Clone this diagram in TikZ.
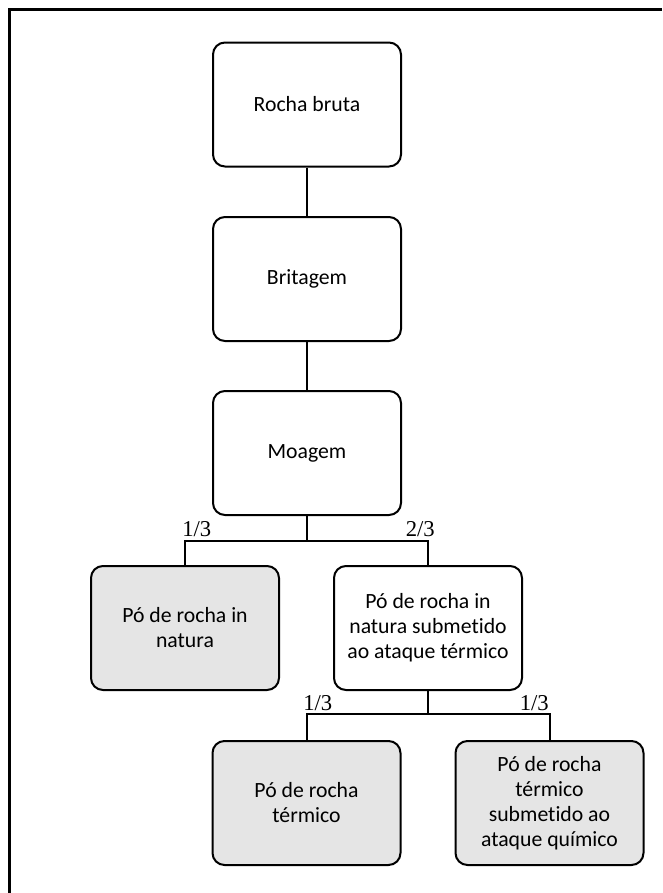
\documentclass[tikz,border=0pt]{standalone}
\usepackage{fontspec}
\setmainfont{Carlito}[Ligatures=NoCommon]
\newfontfamily\fracfont{Liberation Serif}
\usepackage{tikz}
\usetikzlibrary{calc}

\begin{document}
\begin{tikzpicture}[
    x=0.75pt,
    y=-0.75pt,
    every node/.style={font=\fontsize{16.3}{18.75}\selectfont},
    box/.style={draw, rounded corners=9pt, align=center,
        minimum width=141pt, minimum height=93pt, line width=1.5pt},
    stage/.style={box, fill=white},
    product/.style={box, fill=black!10},
    link/.style={draw=black, line width=1.5pt},
    frac/.style={font=\fracfont\fontsize{17}{20}\selectfont, inner sep=0pt},
    frame/.style={draw=black, line width=2pt}
]
    \useasboundingbox (0,0) rectangle (662,893);
    \draw[frame] (9.5,893) |- (662,9.5);

    \node[stage] (rocha) at (307,104.5) {Rocha bruta};
    \node[stage] (britagem) at (307,279) {Britagem};
    \node[stage] (moagem) at (307,453) {Moagem};

    \node[product] (natura) at (185,628) {Pó de rocha in\\natura};
    \node[stage] (termico) at (428,628)
        {Pó de rocha in\\natura submetido\\ao ataque térmico};

    \node[product] (poter) at (306.5,803) {Pó de rocha\\térmico};
    \node[product] (quimico) at (549.5,803)
        {Pó de rocha\\térmico\\submetido ao\\ataque químico};

    \coordinate (split1) at (307,541);
    \coordinate (split2) at (428,714);

    \draw[link] (rocha) -- (britagem);
    \draw[link] (britagem) -- (moagem);
    \draw[link] (moagem) -- (split1);
    \draw[link] (natura) |- (split1) -| (termico);
    \draw[link] (termico) -- (split2);
    \draw[link] (poter) |- (split2) -| (quimico);

    \node[frac, anchor=base west] (fnatura) at (182,536) {1/3};
    \node[frac, anchor=base east] (ftermico) at (435,536) {2/3};
    \node[frac, anchor=base west] (fpoter) at (303,710) {1/3};
    \node[frac, anchor=base east] (fquimico) at (549,710) {1/3};
\end{tikzpicture}
\end{document}
